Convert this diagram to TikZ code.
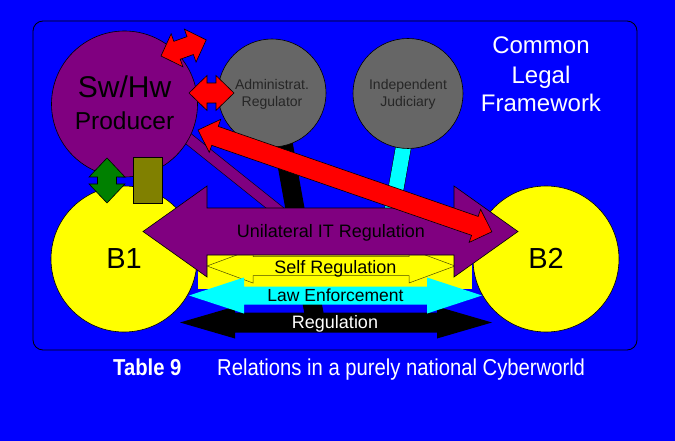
\documentclass[tikz,border=0pt]{standalone}
\usepackage{fontspec}
\setmainfont{Liberation Sans}
\begin{document}
\definecolor{cbg}{RGB}{0,0,255}
\definecolor{cpurple}{RGB}{128,0,128}
\definecolor{cgrey}{RGB}{102,102,102}
\definecolor{colive}{RGB}{128,128,0}
\definecolor{cgreen}{RGB}{0,128,0}
\definecolor{cyellow}{RGB}{255,255,0}
\definecolor{ccyan}{RGB}{0,255,255}
\definecolor{cred}{RGB}{255,0,0}
\tikzset{
  % double-headed block arrow: length / head length / head half-width / shaft half-width
  pics/dblarrow/.style args={#1/#2/#3/#4}{code={
    \path[pic actions] (0,0) -- (#2,#3) -- (#2,#4) -- (#1-#2,#4) -- (#1-#2,#3)
      -- (#1,0) -- (#1-#2,-#3) -- (#1-#2,-#4) -- (#2,-#4) -- (#2,-#3) -- cycle;
  }},
  outl/.style={draw=black, line width=0.6pt},
  ball/.style={circle, inner sep=0pt, outl},
  txt/.style={inner sep=0pt, anchor=base},
  fs/.style={font=\fontsize{#1}{#1}\selectfont},
}
\begin{tikzpicture}[x=1pt, y=-1pt]
\useasboundingbox (0,0) rectangle (675,441);
\fill[cbg] (0,0) rectangle (675,441);
\draw[line width=0.8pt, rounded corners=10pt] (33,21) rectangle (637,350);

% links from the upper bodies down to the regulation arrows
\coordinate (pbA) at (150,108);
\coordinate (pbB) at (290,220);
\coordinate (blA) at (278,115);
\coordinate (blB) at (317,330);
\coordinate (cyA) at (410,110);
\coordinate (cyB) at (378,290);
\draw[draw=black, line width=0.6pt, double=cpurple, double distance=10.5pt] (pbA) -- (pbB);
\draw[black, line width=19pt] (blA) -- (blB);
\draw[draw=black, line width=0.5pt, double=ccyan, double distance=15pt] (cyA) -- (cyB);

% actors
\node[ball, fill=cpurple, minimum size=146pt] (prod) at (124.5,104) {};
\node[ball, fill=cgrey, minimum size=108pt] (admin) at (272,93) {};
\node[ball, fill=cgrey, minimum size=110pt] (judic) at (408,93.5) {};
\node[ball, fill=cyellow, minimum size=146pt] (b1) at (124,259) {};
\node[ball, fill=cyellow, minimum size=146pt] (b2) at (546,259) {};

% producer / B1 link and device box
\coordinate (gA) at (107,158);
\pic[outl, fill=cgreen, rotate=-90] at (gA) {dblarrow=45/19/18/9.5};
\node[outl, fill=colive, minimum width=29pt, minimum height=46pt, inner sep=0pt] (dev) at (147.5,180) {};

% self regulation band
\fill[cyellow] (198,252) rectangle (472,289);
\coordinate (sA) at (207,266);
\pic[draw=black!70!cyellow, line width=0.5pt, fill=cyellow] at (sA) {dblarrow=248/46/17/9.5};

% regulation and law enforcement
\coordinate (rgA) at (180,322.5);
\pic[fill=black] at (rgA) {dblarrow=312/55/16/10};
\coordinate (leA) at (189,295.5);
\pic[fill=ccyan] at (leA) {dblarrow=293/55/18/9};

% unilateral IT regulation
\coordinate (uA) at (143,231.5);
\pic[outl, fill=cpurple] at (uA) {dblarrow=375/64/45.5/23.5};

% red relations
\coordinate (rA) at (198,130);
\pic[outl, fill=cred, rotate=-19.1] at (rA) {dblarrow=311/18/17.5/10};
\coordinate (raA) at (189,93);
\pic[outl, fill=cred] at (raA) {dblarrow=45/18/17.5/10};
\coordinate (rtA) at (161,56);
\pic[outl, fill=cred, rotate=19.6] at (rtA) {dblarrow=48/17/17.5/9.5};

% labels
\node[txt, fs=30] (tsw) at (124.5,97.3) {Sw/Hw};
\node[txt, fs=24.5] (tpr) at (124.5,129.3) {Producer};
\node[txt, fs=14, text=black!85] (tad1) at (272,90) {Administrat.};
\node[txt, fs=14, text=black!85] (tad2) at (272,106.7) {Regulator};
\node[txt, fs=14, text=black!85] (tju1) at (408,90) {Independent};
\node[txt, fs=14, text=black!85] (tju2) at (408,106.7) {Judiciary};
\node[txt, fs=24, text=white] (tc1) at (541,54) {Common};
\node[txt, fs=24, text=white] (tc2) at (541,83.3) {Legal};
\node[txt, fs=24, text=white] (tc3) at (541,111.7) {Framework};
\node[txt, fs=29] (tb1) at (124,268.3) {B1};
\node[txt, fs=29] (tb2) at (546,268.3) {B2};
\node[txt, fs=18] (tun) at (331,237.1) {Unilateral IT Regulation};
\node[txt, fs=18] (tse) at (335.5,273) {Self Regulation};
\node[txt, fs=17.5] (tle) at (335.5,301) {Law Enforcement};
\node[txt, fs=18, text=white] (trg) at (335,328) {Regulation};
\node[inner sep=0pt, anchor=base west, fs=23, text=white] (cap1) at (113,375.7) {\scalebox{0.88}[1]{\textbf{Table 9}}};
\node[inner sep=0pt, anchor=base west, fs=23, text=white] (cap2) at (217,375.7) {\scalebox{0.88}[1]{Relations in a purely national Cyberworld}};
\end{tikzpicture}
\end{document}
